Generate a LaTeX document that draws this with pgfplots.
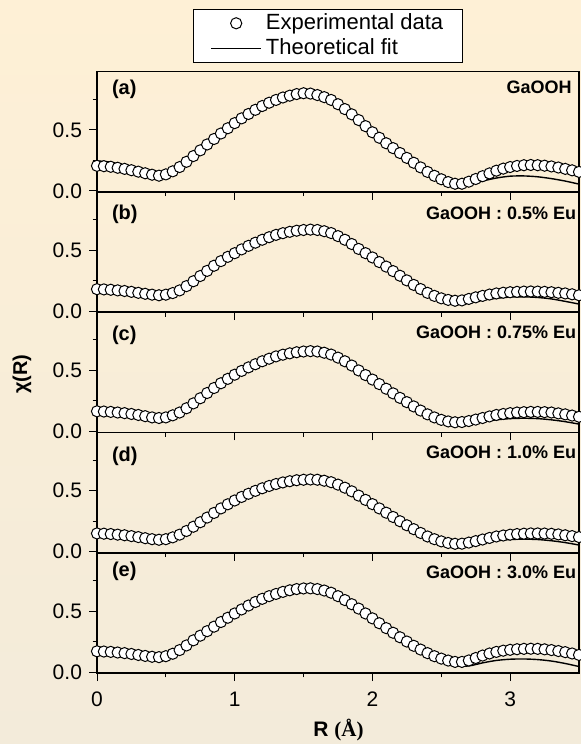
\documentclass[border=0pt]{standalone}
\usepackage{fontspec}
\setmainfont{Liberation Sans}
\newfontfamily\seriffont{Liberation Serif}
\usepackage{pgfplots}
\usepackage{pgfplotstable}
\pgfplotsset{compat=1.18}
\definecolor{bgtop}{RGB}{254,240,214}
\definecolor{bgbot}{RGB}{243,235,218}

\pgfplotstableread{
R a b c d e
0.00 0.205 0.180 0.165 0.150 0.170
0.05 0.202 0.178 0.163 0.148 0.168
0.10 0.197 0.175 0.160 0.145 0.165
0.15 0.189 0.170 0.155 0.140 0.160
0.20 0.180 0.165 0.150 0.135 0.155
0.25 0.169 0.158 0.143 0.128 0.148
0.30 0.157 0.150 0.135 0.120 0.140
0.35 0.144 0.142 0.125 0.111 0.132
0.40 0.132 0.135 0.115 0.103 0.125
0.45 0.124 0.130 0.110 0.098 0.122
0.50 0.135 0.135 0.115 0.103 0.130
0.55 0.160 0.148 0.132 0.118 0.150
0.60 0.195 0.170 0.155 0.140 0.180
0.65 0.238 0.205 0.190 0.170 0.218
0.70 0.285 0.245 0.230 0.205 0.260
0.75 0.332 0.288 0.272 0.242 0.298
0.80 0.380 0.330 0.315 0.280 0.335
0.85 0.425 0.372 0.356 0.318 0.372
0.90 0.470 0.410 0.395 0.355 0.410
0.95 0.513 0.445 0.431 0.389 0.445
1.00 0.555 0.475 0.465 0.420 0.480
1.05 0.594 0.506 0.496 0.449 0.513
1.10 0.630 0.535 0.525 0.475 0.545
1.15 0.664 0.561 0.551 0.499 0.574
1.20 0.695 0.585 0.575 0.520 0.600
1.25 0.722 0.606 0.596 0.539 0.622
1.30 0.745 0.625 0.615 0.555 0.640
1.35 0.765 0.639 0.629 0.568 0.657
1.40 0.780 0.650 0.640 0.578 0.670
1.45 0.793 0.659 0.649 0.586 0.680
1.50 0.800 0.665 0.655 0.590 0.685
1.55 0.797 0.668 0.658 0.592 0.686
1.60 0.785 0.665 0.655 0.590 0.680
1.65 0.768 0.655 0.645 0.582 0.668
1.70 0.745 0.640 0.630 0.570 0.650
1.75 0.710 0.615 0.605 0.550 0.622
1.80 0.670 0.585 0.575 0.525 0.590
1.85 0.627 0.550 0.540 0.495 0.556
1.90 0.580 0.510 0.500 0.460 0.520
1.95 0.530 0.475 0.462 0.425 0.480
2.00 0.480 0.440 0.425 0.390 0.440
2.05 0.435 0.402 0.388 0.355 0.400
2.10 0.390 0.365 0.350 0.320 0.360
2.15 0.350 0.328 0.312 0.285 0.322
2.20 0.310 0.290 0.275 0.250 0.285
2.25 0.270 0.252 0.240 0.217 0.250
2.30 0.230 0.215 0.205 0.185 0.215
2.35 0.192 0.181 0.171 0.154 0.184
2.40 0.155 0.150 0.140 0.125 0.155
2.45 0.123 0.125 0.115 0.103 0.130
2.50 0.095 0.105 0.095 0.085 0.110
2.55 0.072 0.092 0.082 0.072 0.094
2.60 0.058 0.085 0.075 0.065 0.083
2.65 0.058 0.088 0.077 0.066 0.083
2.70 0.075 0.100 0.085 0.075 0.095
2.75 0.097 0.113 0.097 0.087 0.115
2.80 0.120 0.125 0.110 0.100 0.135
2.85 0.143 0.136 0.123 0.113 0.152
2.90 0.165 0.145 0.135 0.125 0.165
2.95 0.182 0.151 0.143 0.133 0.175
3.00 0.195 0.155 0.150 0.140 0.182
3.05 0.204 0.158 0.155 0.145 0.187
3.10 0.210 0.160 0.158 0.148 0.190
3.15 0.212 0.161 0.160 0.150 0.191
3.20 0.210 0.160 0.160 0.150 0.190
3.25 0.206 0.158 0.158 0.149 0.186
3.30 0.200 0.155 0.155 0.147 0.180
3.35 0.191 0.150 0.148 0.142 0.172
3.40 0.180 0.145 0.140 0.135 0.163
3.45 0.168 0.138 0.130 0.128 0.152
3.50 0.155 0.130 0.120 0.120 0.140
}\expdata

\pgfplotstableread{
R a b c d e
0.0 0.245 0.160 0.170 0.155 0.205
0.1 0.235 0.155 0.165 0.150 0.195
0.2 0.205 0.145 0.150 0.135 0.175
0.3 0.165 0.130 0.130 0.117 0.150
0.4 0.125 0.115 0.110 0.100 0.125
0.5 0.122 0.115 0.110 0.100 0.120
0.6 0.175 0.155 0.145 0.130 0.160
0.7 0.265 0.225 0.215 0.190 0.240
0.8 0.360 0.310 0.300 0.265 0.315
0.9 0.455 0.390 0.380 0.340 0.390
1.0 0.540 0.460 0.450 0.405 0.460
1.1 0.620 0.520 0.510 0.460 0.525
1.2 0.685 0.570 0.560 0.505 0.580
1.3 0.735 0.610 0.600 0.540 0.625
1.4 0.770 0.640 0.630 0.565 0.655
1.5 0.785 0.655 0.645 0.578 0.670
1.6 0.775 0.650 0.640 0.575 0.665
1.7 0.735 0.625 0.615 0.555 0.635
1.8 0.660 0.570 0.560 0.510 0.575
1.9 0.570 0.500 0.490 0.450 0.505
2.0 0.475 0.425 0.415 0.380 0.425
2.1 0.385 0.350 0.340 0.310 0.345
2.2 0.300 0.275 0.265 0.240 0.270
2.3 0.215 0.200 0.190 0.170 0.195
2.4 0.140 0.130 0.125 0.110 0.130
2.5 0.075 0.080 0.075 0.070 0.080
2.6 0.042 0.058 0.055 0.050 0.050
2.7 0.050 0.065 0.060 0.055 0.050
2.8 0.080 0.090 0.080 0.075 0.075
2.9 0.105 0.105 0.095 0.090 0.095
3.0 0.120 0.115 0.105 0.100 0.105
3.1 0.122 0.117 0.108 0.103 0.107
3.2 0.115 0.112 0.105 0.100 0.102
3.3 0.100 0.100 0.095 0.090 0.090
3.4 0.080 0.080 0.080 0.075 0.070
3.5 0.055 0.058 0.060 0.055 0.045
}\fitdata

\pgfplotsset{
  panel/.style={
    anchor=north west,
    width=241pt, height=60.15pt, scale only axis,
    xmin=0, xmax=3.5, ymin=-0.008, ymax=0.978,
    xtick={0,1,2,3}, minor xtick={0.5,1.5,2.5},
    ytick={0,0.5}, minor ytick={0.25,0.75},
    tick pos=left, tick align=outside,
    major tick length=4pt, minor tick length=2.2pt,
    tick style={black, line width=0.5pt},
    axis line style={line width=0.8pt},
    /pgf/number format/assume math mode=true,
    yticklabel style={/pgf/number format/.cd, fixed, fixed zerofill, precision=1},
    xticklabel style={yshift=-2pt},
    tick label style={font=\fontsize{10.5}{12}\selectfont},
    legend image code/.code={\draw[mark repeat=2,mark phase=2,##1] plot coordinates {(0pt,0pt) (12.5pt,0pt) (25pt,0pt)};},
  },
  expstyle/.style={only marks, mark=*, mark size=2.8pt, mark options={fill=white, draw=black, line width=0.5pt}},
  fitstyle/.style={black, line width=0.7pt, smooth, no marks},
}
\tikzset{
  lettr/.style={anchor=west, inner sep=0pt, font=\bfseries\fontsize{10}{12}\selectfont},
  namel/.style={anchor=east, inner sep=0pt, font=\bfseries\fontsize{9}{11}\selectfont},
}

\begin{document}
\begin{tikzpicture}
\shade[top color=bgtop, bottom color=bgbot] (0pt,0pt) rectangle (290.5pt,-372pt);

\begin{axis}[panel, at={(48.5pt,-35.75pt)}, xticklabels={},
  legend style={at={(0.48,1)}, anchor=south, yshift=4.25pt, draw=black, line width=0.5pt, fill=white,
    font=\fontsize{11}{12}\selectfont, inner xsep=8.25pt, inner ysep=0.9pt, column sep=0.5pt, row sep=0pt,
    nodes={inner sep=1.5pt}, cells={anchor=west}}]
\addplot[expstyle] table[x=R,y=a]{\expdata}; \addlegendentry{Experimental data}
\addplot[fitstyle] table[x=R,y=a]{\fitdata}; \addlegendentry{Theoretical fit}
\node[lettr, xshift=7.3pt, yshift=-9pt] at (rel axis cs:0,1) {(a)};
\node[namel, xshift=-3.5pt, yshift=-8pt] at (rel axis cs:1,1) {GaOOH};
\end{axis}

\begin{axis}[panel, at={(48.5pt,-95.9pt)}, xticklabels={}]
\addplot[expstyle] table[x=R,y=b]{\expdata};
\addplot[fitstyle] table[x=R,y=b]{\fitdata};
\node[lettr, xshift=7.3pt, yshift=-11.5pt] at (rel axis cs:0,1) {(b)};
\node[namel, xshift=-1.25pt, yshift=-10.5pt] at (rel axis cs:1,1) {GaOOH : 0.5\% Eu};
\end{axis}

\begin{axis}[panel, at={(48.5pt,-156.05pt)}, xticklabels={}]
\addplot[expstyle] table[x=R,y=c]{\expdata};
\addplot[fitstyle] table[x=R,y=c]{\fitdata};
\node[lettr, xshift=7.3pt, yshift=-11.5pt] at (rel axis cs:0,1) {(c)};
\node[namel, xshift=-1.25pt, yshift=-10pt] at (rel axis cs:1,1) {GaOOH : 0.75\% Eu};
\end{axis}

\begin{axis}[panel, at={(48.5pt,-216.2pt)}, xticklabels={}]
\addplot[expstyle] table[x=R,y=d]{\expdata};
\addplot[fitstyle] table[x=R,y=d]{\fitdata};
\node[lettr, xshift=7.3pt, yshift=-12pt] at (rel axis cs:0,1) {(d)};
\node[namel, xshift=-1.25pt, yshift=-10pt] at (rel axis cs:1,1) {GaOOH : 1.0\% Eu};
\end{axis}

\begin{axis}[panel, at={(48.5pt,-276.35pt)}]
\addplot[expstyle] table[x=R,y=e]{\expdata};
\addplot[fitstyle] table[x=R,y=e]{\fitdata};
\node[lettr, xshift=7.3pt, yshift=-9.5pt] at (rel axis cs:0,1) {(e)};
\node[namel, xshift=-1.25pt, yshift=-10pt] at (rel axis cs:1,1) {GaOOH : 3.0\% Eu};
\end{axis}

\node[rotate=90, font=\bfseries\fontsize{10}{12}\selectfont] at (11pt,-187pt) {χ(R)};
\node[font=\bfseries\fontsize{10.5}{12}\selectfont] at (169.25pt,-365pt) {R {\seriffont\bfseries (Å)}};

\pgfresetboundingbox
\path[use as bounding box] (0pt,0pt) rectangle (290.5pt,-372pt);
\end{tikzpicture}
\end{document}
